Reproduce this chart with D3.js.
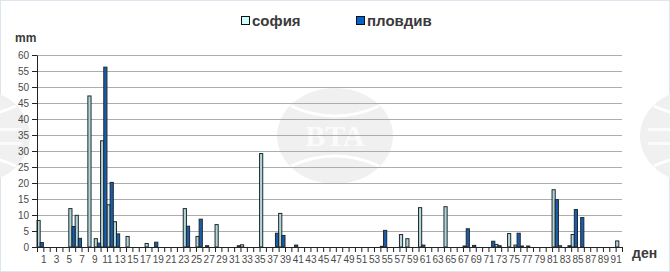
<!DOCTYPE html>
<html>
<head>
<meta charset="utf-8">
<script src="https://cdn.jsdelivr.net/npm/d3@7"></script>
<style>
  body { margin: 0; background: #fff; }
  svg { display: block; font-family: "Liberation Sans", Arial, sans-serif; }
</style>
</head>
<body>
<svg id="chart"></svg>
<script>
// rainfall per day, mm (92 slots on the category axis)
const days = d3.range(1, 93);
const sofia = [
  8.3, 0, 0, 0, 0, 12.0, 9.9, 0, 47.2, 2.6,
  33.2, 13.2, 7.9, 0, 3.3, 0, 0, 1.1, 0, 0,
  0, 0, 0, 12.0, 0, 3.3, 0, 0, 7.0, 0,
  0, 0, 0.7, 0, 0, 29.2, 0, 0, 10.5, 0,
  0, 0, 0, 0, 0, 0, 0, 0, 0, 0,
  0, 0, 0, 0, 0.2, 0, 0, 3.9, 2.6, 0,
  12.3, 0, 0, 0, 12.6, 0, 0, 0.3, 0, 0,
  0, 0, 0.8, 0, 4.2, 0.6, 0.3, 0.3, 0, 0,
  0, 17.9, 0.4, 0, 3.9, 0, 0, 0, 0, 0,
  0, 1.9
];
const plovdiv = [
  1.4, 0, 0, 0, 0, 6.4, 2.7, 0, 0, 1.2,
  56.2, 20.2, 4.1, 0, 0, 0, 0, 0, 1.5, 0,
  0, 0, 0, 6.5, 0, 8.7, 0.4, 0, 0, 0,
  0, 0.4, 0, 0, 0, 0, 0, 4.3, 3.6, 0,
  0.6, 0, 0, 0, 0, 0, 0, 0, 0, 0,
  0, 0, 0, 0, 5.2, 0, 0, 0, 0, 0,
  0.6, 0, 0, 0, 0, 0, 0, 5.7, 0.5, 0,
  0, 1.8, 0.4, 0, 0, 4.3, 0, 0, 0, 0,
  0, 14.8, 0, 0.4, 11.7, 9.2, 0, 0, 0, 0,
  0, 0
];
const seriesNames = ["софия", "пловдив"];
const yTicks = d3.range(0, 61, 5);

const width = 670;
const height = 272;
const svg = d3.select("#chart").attr("width", width).attr("height", height);

svg.append("rect")
  .attr("x", 0.5).attr("y", 0.5)
  .attr("width", width - 1).attr("height", height - 1)
  .attr("fill", "#fff").attr("stroke", "#dde5ee");

// faint BTA watermark logos (letters only on the full one)
function watermark(cx, cy, withText) {
  const g = svg.append("g").attr("transform", `translate(${cx},${cy})`);
  g.append("ellipse").attr("rx", 58).attr("ry", 48).attr("fill", "#f0f0f0");
  g.append("path")
    .attr("d", "M-44,-30 Q0,-10 44,-30")
    .attr("fill", "none").attr("stroke", "#fff").attr("stroke-width", 3);
  g.append("path")
    .attr("d", "M-44,30 Q0,10 44,30")
    .attr("fill", "none").attr("stroke", "#fff").attr("stroke-width", 3);
  if (withText) {
    g.append("text")
      .attr("text-anchor", "middle").attr("y", 10)
      .attr("font-family", "Liberation Serif, serif").attr("font-weight", "bold")
      .attr("font-size", 30).attr("fill", "#fbfbfb")
      .text("BTA");
  } else {
    g.append("rect").attr("x", -50).attr("y", -8).attr("width", 100).attr("height", 3).attr("fill", "#fbfbfb");
    g.append("rect").attr("x", -50).attr("y", 6).attr("width", 100).attr("height", 3).attr("fill", "#fbfbfb");
  }
}
watermark(335, 136, true);
watermark(-28, 136, false);
watermark(698, 136, false);

const x = d3.scaleLinear().domain([0, 92]).range([37, 622]);
const y = d3.scaleLinear().domain([0, 60]).range([247, 55]);

// gridlines
svg.append("g")
  .selectAll("line")
  .data(yTicks.filter(d => d > 0))
  .join("line")
    .attr("x1", x(0)).attr("x2", x(92))
    .attr("y1", d => Math.round(y(d)) + 0.5)
    .attr("y2", d => Math.round(y(d)) + 0.5)
    .attr("stroke", "#adadad");

// bars
const colors = ["#b4d6d6", "#1c5cac"];
const data = [sofia, plovdiv];
data.forEach((values, s) => {
  svg.append("g")
    .selectAll("rect")
    .data(days)
    .join("rect")
      .attr("x", d => {
        const w = (x(d) - x(d - 1)) / 2;
        return x(d - 1) + s * w;
      })
      .attr("width", d => (x(d) - x(d - 1)) / 2)
      .attr("y", (d, i) => y(values[i]))
      .attr("height", (d, i) => y(0) - y(values[i]))
      .attr("fill", colors[s])
      .attr("stroke", "#1c2a30")
      .attr("stroke-width", 1)
      .style("display", (d, i) => values[i] > 0 ? null : "none");
});

// axes
const xAxis = svg.append("g")
  .attr("transform", `translate(0,${y(0)})`)
  .call(d3.axisBottom(x)
    .tickValues(d3.range(0, 93))
    .tickFormat(d => (d % 2 === 1 && d <= 91) ? d : "")
    .tickSize(5)
    .tickPadding(4)
    .tickSizeOuter(0));
xAxis.select(".domain").attr("stroke", "#222");
xAxis.selectAll(".tick line").attr("stroke", "#222");
xAxis.selectAll("text").attr("font-size", 10).attr("fill", "#4a4a4a").attr("font-family", null);

const yAxis = svg.append("g")
  .attr("transform", `translate(${x(0)},0)`)
  .call(d3.axisLeft(y)
    .tickValues(yTicks)
    .tickSize(5)
    .tickPadding(3)
    .tickSizeOuter(0));
yAxis.select(".domain").attr("stroke", "#222");
yAxis.selectAll(".tick line").attr("stroke", "#222");
yAxis.selectAll("text").attr("font-size", 10).attr("fill", "#4a4a4a").attr("font-family", null);

// axis titles
svg.append("text")
  .attr("x", 15).attr("y", 42)
  .attr("font-size", 12).attr("font-weight", "bold").attr("fill", "#3a3a3a")
  .text("mm");
svg.append("text")
  .attr("x", 632).attr("y", 258)
  .attr("font-size", 14).attr("font-weight", "bold").attr("fill", "#3a3a3a")
  .text("ден");

// legend
const legendColors = ["#ccffff", "#0066cc"];
const legendX = [241, 356];
seriesNames.forEach((name, i) => {
  svg.append("rect")
    .attr("x", legendX[i] + 0.5).attr("y", 16.5)
    .attr("width", 8).attr("height", 8)
    .attr("fill", legendColors[i]).attr("stroke", "#111");
  svg.append("text")
    .attr("x", legendX[i] + 11).attr("y", 26)
    .attr("font-size", 15).attr("font-weight", "bold").attr("fill", "#3a3a3a")
    .text(name);
});
</script>
</body>
</html>
